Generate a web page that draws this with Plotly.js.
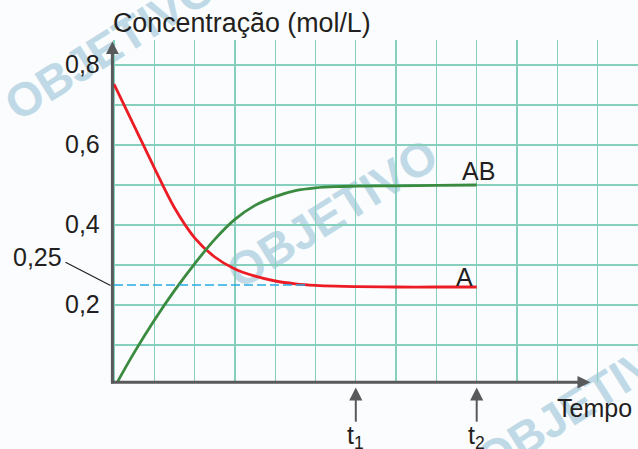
<!DOCTYPE html>
<html><head><meta charset="utf-8">
<script src="https://cdn.plot.ly/plotly-3.0.1.min.js"></script>
<style>html,body{margin:0;padding:0;background:#fafcfe;} #chart{width:638px;height:449px;}</style>
</head><body><div id="chart"></div>
<script>
// ---- data ----
const timeA  = [0, 0.5, 1.0, 1.5, 2.0, 2.5, 3.0, 3.5, 4.0, 4.5, 5.0, 5.5, 6, 7, 8, 9];
const concA  = [0.752, 0.648, 0.543, 0.443, 0.368, 0.320, 0.290, 0.272, 0.260, 0.253, 0.249, 0.247, 0.246, 0.245, 0.245, 0.245];
const timeAB = [0.07, 0.5, 1.0, 1.5, 2.0, 2.5, 3.0, 3.5, 4.0, 4.5, 5.0, 5.5, 6, 7, 8, 9];
const concAB = [0.005, 0.081, 0.162, 0.236, 0.303, 0.364, 0.414, 0.449, 0.471, 0.486, 0.493, 0.496, 0.497, 0.498, 0.499, 0.5];
const seriesNames = ['A', 'AB'];
const yTickVals = [0.2, 0.4, 0.6, 0.8];
const yTickText = ['0,2', '0,4', '0,6', '0,8'];
const markedLevel = 0.25;
const markedLevelText = '0,25';
const markedLevelEnd = 4.8;
const markedTimes = [6, 9];
const markedTimeText = ['t<sub>1</sub>', 't<sub>2</sub>'];
const yTitle = 'Concentração (mol/L)';
const xTitle = 'Tempo';

// ---- geometry ----
const PL = 112, PR = 638, PT = 40, PB = 382;
const X0 = 114, UX = 40.3, Y0 = 385, UY = 400;
const xr = [(PL - X0) / UX, (PR - X0) / UX];
const yr = [(Y0 - PB) / UY, (Y0 - PT) / UY];
const px = p => (p - PL) / (PR - PL);
const py = p => (PB - p) / (PB - PT);
const dx = v => X0 + v * UX;
const dy = v => Y0 - v * UY;

const FONT = 'Liberation Sans, Arial, sans-serif';
const TXT = '#231f20';
const AXC = '#58595b';
const WM = '#bfdae6';

const traces = [
  {x: timeA, y: concA, name: seriesNames[0], mode: 'lines', line: {color: '#ec1c24', width: 2.8, shape: 'spline', smoothing: 1}, hoverinfo: 'skip'},
  {x: timeAB, y: concAB, name: seriesNames[1], mode: 'lines', line: {color: '#3a8b3f', width: 2.8, shape: 'spline', smoothing: 1}, hoverinfo: 'skip'}
];

const shapes = [];
// watermarks
function wm(cx, cy) {
  shapes.push({type: 'rect', xref: 'paper', yref: 'paper', layer: 'below',
    x0: px(cx - 5), x1: px(cx + 5), y0: py(cy + 5), y1: py(cy - 5),
    line: {width: 0}, fillcolor: 'rgba(0,0,0,0)',
    label: {text: 'OBJETIVO', textangle: -32, textposition: 'middle center',
      font: {family: FONT, size: 47, color: WM, weight: 'bold'}}});
}
wm(108, 42); wm(330, 210); wm(580, 398);

// y axis
const yAxX = 112.4;
shapes.push({type: 'line', xref: 'paper', yref: 'paper', x0: px(yAxX), x1: px(yAxX), y0: py(383.6), y1: py(53), line: {color: AXC, width: 3}});
shapes.push({type: 'path', xref: 'paper', yref: 'paper', path: `M ${px(yAxX)},${py(41.5)} L ${px(yAxX - 6.4)},${py(54)} L ${px(yAxX + 6.4)},${py(54)} Z`, fillcolor: AXC, line: {width: 0}});
// x axis
const xAxY = 382.3;
shapes.push({type: 'line', xref: 'paper', yref: 'paper', x0: px(111), x1: px(579), y0: py(xAxY), y1: py(xAxY), line: {color: AXC, width: 3}});
shapes.push({type: 'path', xref: 'paper', yref: 'paper', path: `M ${px(590.5)},${py(xAxY)} L ${px(577.5)},${py(xAxY - 6.3)} L ${px(577.5)},${py(xAxY + 6.3)} Z`, fillcolor: AXC, line: {width: 0}});
// time markers
markedTimes.forEach(t => {
  const xp = dx(t);
  shapes.push({type: 'line', xref: 'paper', yref: 'paper', x0: px(xp), x1: px(xp), y0: py(421.7), y1: py(399), line: {color: AXC, width: 2}});
  shapes.push({type: 'path', xref: 'paper', yref: 'paper', path: `M ${px(xp)},${py(387.5)} L ${px(xp - 6.6)},${py(400.5)} L ${px(xp + 6.6)},${py(400.5)} Z`, fillcolor: AXC, line: {width: 0}});
});
// dashed level
shapes.push({type: 'line', xref: 'x', yref: 'y', x0: 0, x1: markedLevelEnd, y0: markedLevel, y1: markedLevel, line: {color: '#29abe2', width: 1.6, dash: '9px,4px'}});
// leader
shapes.push({type: 'line', xref: 'paper', yref: 'paper', x0: px(65.5), y0: py(262.3), x1: px(110.5), y1: py(285.5), line: {color: TXT, width: 1.2}});

const ann = [];
function txt(text, xPix, yPix, xanchor, size) {
  ann.push({text, xref: 'paper', yref: 'paper', x: px(xPix), y: py(yPix), xanchor, yanchor: 'middle',
    showarrow: false, borderpad: 0, font: {family: FONT, size: size || 25, color: TXT}});
}
yTickVals.forEach((v, i) => txt(yTickText[i], 101, dy(v) - 1, 'right'));
txt(markedLevelText, 63, 257, 'right');
txt(yTitle, 112, 23.5, 'left', 26.8);
txt(xTitle, 556, 408, 'left');
txt(seriesNames[1], 478, 170.5, 'center');
txt(seriesNames[0], 464, 276.7, 'center');
markedTimes.forEach((t, i) => txt(markedTimeText[i], dx(t), 436.5, 'center'));

const layout = {
  width: 638, height: 449,
  margin: {l: PL, r: 638 - PR, t: PT, b: 449 - PB, pad: 0},
  paper_bgcolor: '#fafcfe', plot_bgcolor: '#fafcfe',
  showlegend: false, separators: ',.',
  font: {family: FONT, color: TXT},
  xaxis: {range: xr, dtick: 1, tick0: 0, showgrid: true, gridcolor: '#86cfbc', gridwidth: 1.4, showticklabels: false, ticks: '', zeroline: false, showline: false, fixedrange: true},
  yaxis: {range: yr, dtick: 0.1, tick0: 0, showgrid: true, gridcolor: '#86cfbc', gridwidth: 1.4, showticklabels: false, ticks: '', zeroline: false, showline: false, fixedrange: true},
  shapes, annotations: ann
};
Plotly.newPlot('chart', traces, layout, {staticPlot: true, displayModeBar: false});
</script></body></html>
